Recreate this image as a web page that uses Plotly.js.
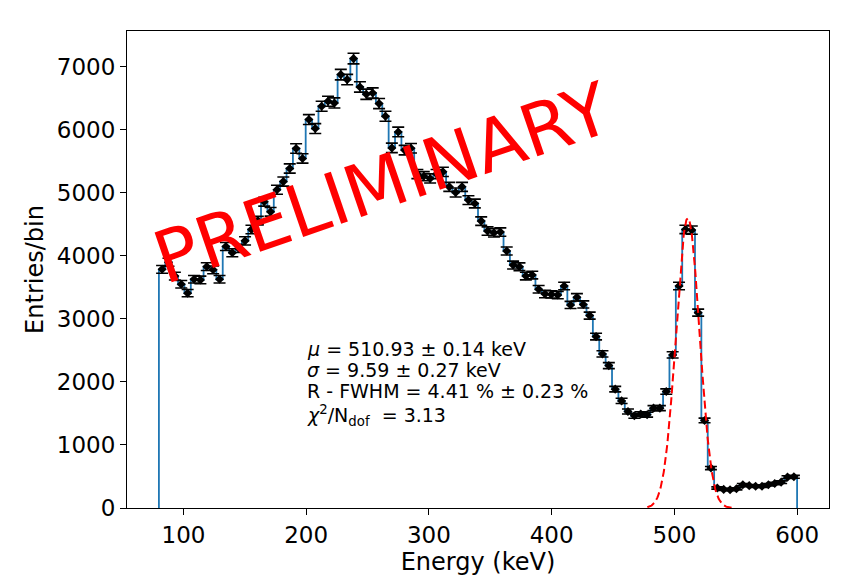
<!DOCTYPE html>
<html>
<head>
<meta charset="utf-8">
<script src="https://cdn.plot.ly/plotly-3.0.1.min.js"></script>
<style>html,body{margin:0;padding:0;background:#fff;}#chart{width:862px;height:587px;}</style>
</head>
<body>
<div id="chart"></div>
<script>
// Histogram definition (100 bins from 80 to 600 keV)
const binLow = 80;
const binHigh = 600;
const nBins = 100;
// Entries per bin
const counts = [
  3788, 3900, 3680, 3550, 3410, 3630, 3620, 3830, 3780, 3630,
  4150, 4050, 4120, 4240, 4420, 4560, 4860, 4700, 5050, 5180,
  5388, 5705, 5547, 6165, 6022, 6376, 6455, 6428, 6878, 6799,
  7132, 6682, 6566, 6586, 6418, 6217, 5715, 5968, 5680, 5710,
  5300, 5266, 5230, 5300, 5335, 5097, 5007, 5097, 4886, 4833,
  4553, 4395, 4368, 4379, 4078, 3856, 3829, 3681, 3697, 3471,
  3396, 3390, 3380, 3523, 3222, 3344, 3230, 3053, 2720, 2445,
  2260, 1886, 1700, 1531, 1463, 1490, 1480, 1585, 1585, 1848,
  2430, 3523, 4421, 4410, 3100, 1389, 634, 317, 295, 290,
  305, 370, 355, 345, 345, 370, 390, 410, 490, 495
];
// Gaussian fit parameters (from the annotation) and estimated amplitude
const fitMu = 510.93;
const fitSigma = 9.59;
const fitAmp = 4600;
const fitRange = [478, 548];
const fitLines = [
  "<i>μ</i> = 510.93 ± 0.14 keV",
  "<i>σ</i> = 9.59 ± 0.27 keV",
  "R - FWHM = 4.41 % ± 0.23 %",
  "<i>χ</i><sup>2</sup>/N<sub>dof</sub>  = 3.13"
];
const xTicks = [100, 200, 300, 400, 500, 600];
const yTicks = [0, 1000, 2000, 3000, 4000, 5000, 6000, 7000];

const binW = (binHigh - binLow) / nBins;
const centers = counts.map((_, i) => binLow + binW * (i + 0.5));
const errs = counts.map(c => Math.sqrt(c));

// step outline
const stepX = [binLow], stepY = [0];
counts.forEach((c, i) => { stepX.push(binLow + binW * i); stepY.push(c); });
stepX.push(binHigh); stepY.push(counts[counts.length - 1]);
stepX.push(binHigh); stepY.push(0);

// fit curve
const fitX = [], fitY = [];
for (let k = 0; k <= 300; k++) {
  const x = fitRange[0] + (fitRange[1] - fitRange[0]) * k / 300;
  fitX.push(x);
  fitY.push(fitAmp * Math.exp(-0.5 * Math.pow((x - fitMu) / fitSigma, 2)));
}

const font = "DejaVu Sans, Verdana, sans-serif";

const traces = [
  {x: stepX, y: stepY, type: 'scatter', mode: 'lines', line: {shape: 'hv', color: '#1f77b4', width: 1.8}, hoverinfo: 'skip'},
  {x: centers, y: counts, type: 'scatter', mode: 'markers',
   marker: {symbol: 'diamond', color: '#000', size: 7},
   error_y: {type: 'data', array: errs, visible: true, color: '#000', thickness: 1.6, width: 6}},
  {x: fitX, y: fitY, type: 'scatter', mode: 'lines', line: {color: '#ff0000', width: 2, dash: '8px,4px'}}
];

const annY = [0.3335, 0.2896, 0.2456, 0.1933];
const annotations = fitLines.map((t, i) => ({
  text: t, xref: 'paper', yref: 'paper', x: 0.2533, y: annY[i],
  xanchor: 'left', yanchor: 'middle', showarrow: false,
  font: {family: font, size: 19, color: '#000'}
}));
annotations.push({
  text: 'PRELIMINARY', xref: 'paper', yref: 'paper', x: 0.3644, y: 0.681,
  xanchor: 'center', yanchor: 'middle', showarrow: false, textangle: -19,
  font: {family: font, size: 72, color: '#ff0000'}
});

const axisCommon = {
  showline: true, mirror: true, linecolor: '#000', linewidth: 1,
  ticks: 'outside', ticklen: 6, tickwidth: 1, tickcolor: '#000',
  showgrid: false, zeroline: false,
  tickfont: {family: font, size: 23, color: '#000'}
};

const layout = {
  width: 862, height: 587,
  margin: {l: 127, r: 33, t: 31, b: 79},
  paper_bgcolor: '#fff', plot_bgcolor: '#fff',
  showlegend: false,
  xaxis: Object.assign({}, axisCommon, {range: [54, 626], tickvals: xTicks,
    title: {text: 'Energy (keV)', font: {family: font, size: 24, color: '#000'}, standoff: 2}}),
  yaxis: Object.assign({}, axisCommon, {range: [0, 7570], tickvals: yTicks,
    title: {text: 'Entries/bin', font: {family: font, size: 24, color: '#000'}, standoff: 6}}),
  annotations: annotations
};

Plotly.newPlot('chart', traces, layout, {staticPlot: true, displayModeBar: false});
</script>
</body>
</html>
